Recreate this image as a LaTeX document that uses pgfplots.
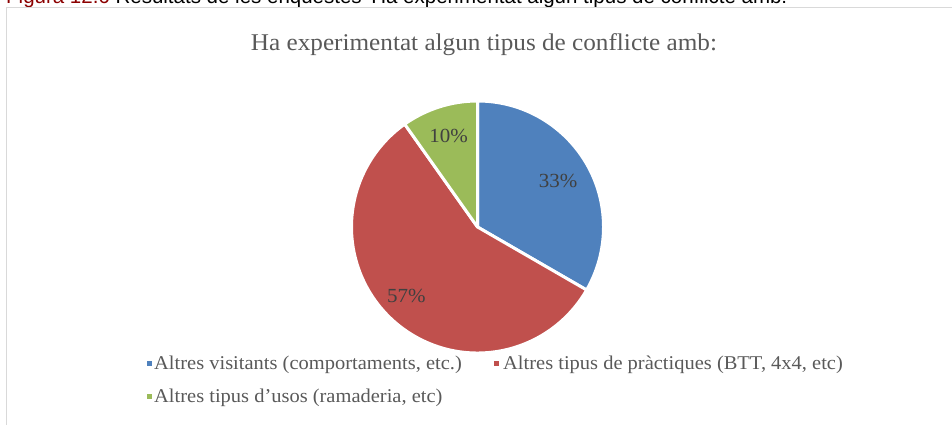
\documentclass[border=0pt]{standalone}
\usepackage{pgfplots}
\pgfplotsset{compat=1.18}
\usepackage{pgfplotstable}
\usetikzlibrary{calc}
\usepackage{fontspec}
\setmainfont{Liberation Serif}[FakeStretch=1.05]
\newfontfamily\capfont{Liberation Sans}
\definecolor{sblue}{HTML}{4F81BD}
\definecolor{sred}{HTML}{C0504D}
\definecolor{sgreen}{HTML}{9BBB59}
\definecolor{lbl}{HTML}{404040}
\definecolor{ttl}{HTML}{595959}
\definecolor{framec}{HTML}{D9D9D9}
\definecolor{figred}{HTML}{8B0000}

\pgfplotstableread{
count
17
29
5
}\conflicts
\pgfplotstablegetelem{0}{count}\of\conflicts \let\va\pgfplotsretval
\pgfplotstablegetelem{1}{count}\of\conflicts \let\vb\pgfplotsretval
\pgfplotstablegetelem{2}{count}\of\conflicts \let\vc\pgfplotsretval
\pgfmathsetmacro\total{\va+\vb+\vc}
\pgfmathsetmacro\aA{90-360*\va/\total}
\pgfmathsetmacro\aB{\aA-360*\vb/\total}
\pgfmathsetmacro\aC{\aB-360*\vc/\total}
\pgfmathsetmacro\mA{(90+\aA)/2}
\pgfmathsetmacro\mB{(\aA+\aB)/2}
\pgfmathsetmacro\mC{(\aB+\aC)/2}
\pgfmathtruncatemacro\pA{round(100*\va/\total)}
\pgfmathtruncatemacro\pB{round(100*\vb/\total)}
\pgfmathtruncatemacro\pC{round(100*\vc/\total)}
\def\R{126pt}

\begin{document}
\begin{tikzpicture}[x=1pt,y=1pt]
\useasboundingbox (0,0) rectangle (952,425);
\clip (0,0) rectangle (952,425);
% caption (cut off at top)
\node[anchor=base west, inner sep=0pt, font=\capfont\fontsize{20.5}{22}\selectfont] at (6,421)
  {\textcolor{figred}{Figura 12.6} Resultats de les enquestes 'Ha experimentat algun tipus de conflicte amb:};
% frame
\draw[framec, line width=1pt] (6.5,-5) -- (6.5,417.5) -- (960,417.5);
% title
\node[anchor=base, inner sep=0pt, text=ttl, font=\fontsize{24}{28}\selectfont] at (484,374)
  {Ha experimentat algun tipus de conflicte amb:};
\begin{axis}[
  at={(477.5pt,198pt)}, anchor=center,
  width=252pt, height=252pt, scale only axis,
  xmin=-1, xmax=1, ymin=-1, ymax=1,
  hide axis, clip=false]
  \addplot[draw=none] coordinates {(0,0)};
  \fill[sblue, draw=white, line width=3pt, line join=round] (axis cs:0,0) -- ++(90:\R) arc[start angle=90, end angle=\aA, radius=\R] -- cycle;
  \fill[sred, draw=white, line width=3pt, line join=round] (axis cs:0,0) -- ++(\aA:\R) arc[start angle=\aA, end angle=\aB, radius=\R] -- cycle;
  \fill[sgreen, draw=white, line width=3pt, line join=round] (axis cs:0,0) -- ++(\aB:\R) arc[start angle=\aB, end angle=\aC, radius=\R] -- cycle;
  \node[text=lbl, font=\fontsize{20}{22}\selectfont] at ($(axis cs:0,0)+(\mA:93pt)$) {\pA\%};
  \node[text=lbl, font=\fontsize{20}{22}\selectfont] at ($(axis cs:0,0)+(-136:99pt)$) {\pB\%};
  \node[text=lbl, font=\fontsize{20}{22}\selectfont] at ($(axis cs:0,0)+(\mC:95pt)$) {\pC\%};
\end{axis}
% legend
\fill[sblue] (146.5,58.5) rectangle (151.5,63.5);
\fill[sred] (493.5,58.5) rectangle (498.5,63.5);
\fill[sgreen] (146.5,25.5) rectangle (151.5,30.5);
\node[anchor=base west, inner sep=0pt, text=ttl, font=\fontsize{19.5}{22}\selectfont] at (154,55) {Altres visitants (comportaments, etc.)};
\node[anchor=base west, inner sep=0pt, text=ttl, font=\fontsize{19.5}{22}\selectfont] at (503,55) {Altres tipus de pràctiques (BTT, 4x4, etc)};
\node[anchor=base west, inner sep=0pt, text=ttl, font=\fontsize{19.5}{22}\selectfont] at (154,22) {Altres tipus d’usos (ramaderia, etc)};
\end{tikzpicture}
\end{document}
